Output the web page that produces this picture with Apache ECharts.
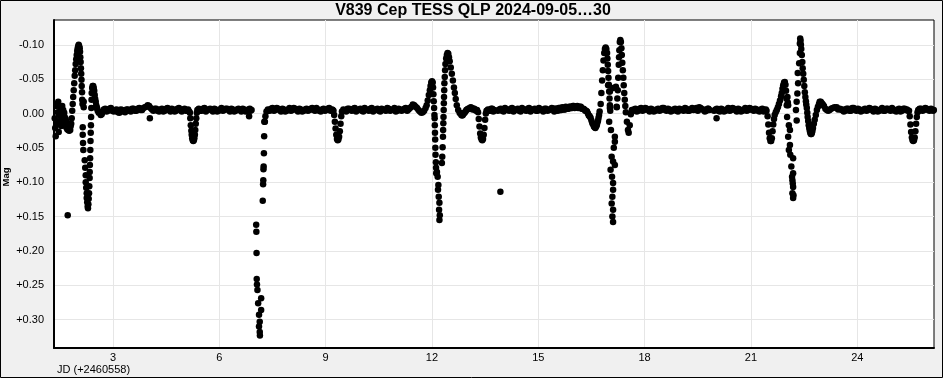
<!DOCTYPE html>
<html><head><meta charset="utf-8">
<script src="https://cdn.jsdelivr.net/npm/echarts@6/dist/echarts.min.js"></script>
<style>html,body{margin:0;padding:0;background:#f0f0f0}#c{width:943px;height:378px}</style>
</head><body><div id="c"></div>
<script>
// ---- tick values ----
const xTicks = [3, 6, 9, 12, 15, 18, 21, 24];
const yTicks = [-0.10, -0.05, 0.00, 0.05, 0.10, 0.15, 0.20, 0.25, 0.30];

// ---- light-curve segments (JD - 2460558, differential mag) ----
const startJd = [1.355,1.369,1.383,1.397,1.411,1.425,1.439,1.454,1.468,1.482,1.496,1.524,1.538,1.552,1.567,1.581,1.595,1.609,1.623,1.637,1.651,1.665,1.679,1.693,1.708,1.722,1.736,1.750,1.764,1.778,1.792,1.806,1.821,1.835,1.849,1.863,1.877,1.891,1.905,1.919,1.933,1.947,1.962,1.976,1.990,2.004,2.018,2.032,2.046,2.060,2.069,2.077,2.086,2.094,2.103,2.111,2.117,2.126,2.131,2.140];
const startMag = [0.007,0.021,0.033,-0.011,-0.014,0.015,-0.002,-0.017,0.027,0.002,0.011,-0.007,0.018,0.001,-0.011,0.007,-0.005,0.012,-0.001,0.005,0.017,0.008,0.020,0.012,0.023,0.017,0.024,0.020,0.025,0.021,0.024,0.018,0.015,0.007,-0.004,-0.014,-0.024,-0.034,-0.044,-0.055,-0.063,-0.072,-0.079,-0.085,-0.091,-0.095,-0.098,-0.100,-0.098,-0.095,-0.090,-0.082,-0.075,-0.066,-0.058,-0.049,-0.040,-0.031,-0.020,-0.014];

const flare1Jd = [2.145,2.145,2.154,2.162,2.173,2.173,2.202,2.216,2.230,2.230,2.244,2.258,2.258,2.272,2.286,2.294,2.305,2.314,2.323,2.331,2.340,2.343,2.348,2.354,2.360,2.365,2.371,2.377,2.382,2.388,2.394,2.399,2.413,2.427,2.441,2.456,2.470,2.484,2.498,2.512,2.526,2.540,2.554,2.568,2.597,2.625,2.653,2.681,1.722];
const flare1Mag = [0.020,0.031,0.043,0.053,-0.017,-0.009,0.068,0.079,0.090,0.100,0.108,0.116,0.123,0.129,0.135,0.138,0.132,0.124,0.116,0.106,0.094,0.085,0.075,0.065,0.053,0.040,0.028,0.017,0.005,-0.008,-0.020,-0.030,-0.037,-0.040,-0.040,-0.037,-0.033,-0.027,-0.021,-0.017,-0.012,-0.009,-0.007,-0.004,-0.001,-0.002,0.002,0.001,0.148];

const base1Jd = [2.70,2.78,2.86,2.94,3.02,3.10,3.18,3.26,3.34,3.42,3.50,3.58,3.66,3.74,3.82,3.90,3.98,4.06,4.14,4.22,4.30,4.38,4.46,4.54,4.62,4.70,4.78,4.86,4.94,5.02,5.10,5.15,4.04];
const base1Mag = [-0.002,-0.007,-0.004,-0.008,-0.003,-0.006,-0.001,-0.005,-0.002,-0.006,-0.003,-0.007,-0.004,-0.008,-0.005,-0.009,-0.012,-0.008,-0.004,-0.007,-0.003,-0.007,-0.004,-0.008,-0.003,-0.006,-0.004,-0.008,-0.003,-0.007,-0.004,-0.003,0.007];
const base1bJd = [2.74,2.82,2.90,2.98,3.06,3.14,3.22,3.30,3.38,3.46,3.54,3.62,3.70,3.78,3.86,3.94,4.02,4.10,4.18,4.26,4.34,4.42,4.50,4.58,4.66,4.74,4.82,4.90,4.98,5.06,5.12];
const base1bMag = [-0.006,-0.003,-0.007,-0.004,-0.005,-0.002,-0.006,-0.003,-0.006,-0.004,-0.007,-0.004,-0.007,-0.005,-0.008,-0.010,-0.011,-0.006,-0.007,-0.004,-0.006,-0.003,-0.007,-0.005,-0.007,-0.003,-0.007,-0.005,-0.006,-0.004,-0.006];

const dip1Jd = [5.17,5.18,5.195,5.21,5.22,5.235,5.25,5.265,5.28,5.295,5.31,5.32,5.335,5.35,5.365,5.38];
const dip1Mag = [-0.001,0.007,0.017,0.025,0.031,0.036,0.039,0.040,0.039,0.036,0.031,0.024,0.015,0.007,-0.001,-0.005];

const base2Jd = [5.42,5.50,5.58,5.66,5.74,5.82,5.90,5.98,6.06,6.14,6.22,6.30,6.38,6.46,6.54,6.62,6.70,6.78,6.86,6.91,6.84];
const base2Mag = [-0.007,-0.004,-0.008,-0.005,-0.007,-0.003,-0.006,-0.004,-0.008,-0.005,-0.007,-0.003,-0.006,-0.004,-0.007,-0.003,-0.006,-0.004,-0.007,-0.005,0.004];
const base2bJd = [5.46,5.54,5.62,5.70,5.78,5.86,5.94,6.02,6.10,6.18,6.26,6.34,6.42,6.50,6.58,6.66,6.74,6.82,6.88];
const base2bMag = [-0.004,-0.007,-0.003,-0.006,-0.005,-0.007,-0.003,-0.006,-0.004,-0.007,-0.005,-0.007,-0.003,-0.006,-0.005,-0.007,-0.003,-0.006,-0.004];

const eclipseJd = [7.040,7.045,7.050,7.055,7.062,7.075,7.180,7.095,7.180,7.120,7.140,7.120,7.140,7.145,7.225,7.235,7.240,7.245,7.250,7.258,7.265,7.270,7.285,7.300,7.330,7.370];
const eclipseMag = [0.162,0.172,0.203,0.241,0.249,0.257,0.269,0.276,0.286,0.293,0.303,0.310,0.318,0.323,0.127,0.103,0.097,0.081,0.077,0.058,0.033,0.012,0.012,0.004,-0.003,-0.006];

const base3Jd = [7.42,7.50,7.58,7.66,7.74,7.82,7.90,7.98,8.06,8.14,8.22,8.30,8.38,8.46,8.54,8.62,8.70,8.78,8.86,8.94,9.02,9.10,9.18];
const base3Mag = [-0.004,-0.008,-0.005,-0.007,-0.003,-0.006,-0.004,-0.008,-0.005,-0.007,-0.003,-0.006,-0.004,-0.007,-0.005,-0.008,-0.004,-0.006,-0.003,-0.007,-0.005,-0.008,-0.006];
const base3bJd = [7.46,7.54,7.62,7.70,7.78,7.86,7.94,8.02,8.10,8.18,8.26,8.34,8.42,8.50,8.58,8.66,8.74,8.82,8.90,8.98,9.06,9.14,9.20];
const base3bMag = [-0.007,-0.004,-0.008,-0.005,-0.007,-0.003,-0.006,-0.004,-0.008,-0.005,-0.007,-0.003,-0.006,-0.004,-0.007,-0.005,-0.008,-0.004,-0.006,-0.004,-0.007,-0.004,-0.005];

const dip2Jd = [9.22,9.24,9.26,9.28,9.30,9.32,9.34,9.36,9.38,9.40,9.42,9.44,9.46];
const dip2Mag = [-0.004,0.002,0.012,0.022,0.031,0.037,0.039,0.038,0.034,0.026,0.015,0.004,-0.003];

const base4Jd = [9.50,9.58,9.66,9.74,9.82,9.90,9.98,10.06,10.14,10.22,10.30,10.38,10.46,10.54,10.62,10.70,10.78,10.86,10.94,11.02,11.10,11.18,11.26,11.34,11.42,11.50,11.58,11.62];
const base4Mag = [-0.006,-0.003,-0.007,-0.004,-0.008,-0.005,-0.007,-0.003,-0.006,-0.004,-0.008,-0.005,-0.007,-0.003,-0.006,-0.004,-0.007,-0.005,-0.008,-0.004,-0.006,-0.005,-0.008,-0.006,-0.010,-0.012,-0.008,-0.005];
const base4bJd = [9.54,9.62,9.70,9.78,9.86,9.94,10.02,10.10,10.18,10.26,10.34,10.42,10.50,10.58,10.66,10.74,10.82,10.90,10.98,11.06,11.14,11.22,11.30,11.38,11.46,11.54];
const base4bMag = [-0.004,-0.007,-0.005,-0.007,-0.003,-0.006,-0.004,-0.008,-0.005,-0.007,-0.003,-0.006,-0.004,-0.007,-0.005,-0.008,-0.004,-0.006,-0.003,-0.007,-0.004,-0.007,-0.004,-0.008,-0.013,-0.010];

const flare2Jd = [11.66,11.70,11.74,11.78,11.82,11.85,11.88,11.91,11.94,11.96,11.98,12.00,12.02,12.03,12.04,12.05,12.06,
  12.07,12.075,12.08,12.085,12.09,12.095,12.10,12.11,12.115,12.12,12.14,12.16,12.17,12.18,12.19,12.20,12.21,12.22,12.21,
  12.28,12.29,12.30,12.31,12.315,12.32,12.325,12.33,12.335,12.34,12.345,12.35,12.36,12.37,12.38,12.40,12.42,12.44,
  12.46,12.48,12.50,12.53,12.56,12.59,12.62,12.645,12.67,12.70,12.74,12.78,12.83,12.87,12.92,12.97,13.02,13.07,13.12,13.17,13.22,13.27,
  12.805,12.85,12.895,12.945,12.995,13.045,13.095,13.145,13.195,13.245];
const flare2Mag = [-0.003,-0.001,-0.002,-0.004,-0.008,-0.012,-0.019,-0.027,-0.034,-0.040,-0.045,-0.047,-0.045,-0.038,-0.028,-0.018,-0.008,
  0.002,0.007,0.017,0.028,0.038,0.050,0.060,0.071,0.079,0.087,0.085,0.092,0.111,0.104,0.121,0.140,0.130,0.148,0.155,
  0.072,0.063,0.049,0.034,0.024,0.014,0.005,-0.005,-0.015,-0.024,-0.034,-0.044,-0.053,-0.063,-0.072,-0.080,-0.085,-0.088,
  -0.087,-0.082,-0.076,-0.067,-0.058,-0.048,-0.038,-0.030,-0.021,-0.012,-0.005,-0.001,0.002,0.002,-0.001,-0.005,-0.007,-0.008,-0.008,-0.007,-0.005,-0.005,
  0.000,0.003,0.000,-0.003,-0.006,-0.007,-0.009,-0.006,-0.007,-0.004];

const dip3Jd = [13.30,13.32,13.34,13.36,13.38,13.40,13.42,13.44,13.46,13.48,13.50,13.52,13.54];
const dip3Mag = [-0.002,0.008,0.019,0.029,0.035,0.038,0.039,0.037,0.031,0.021,0.009,0.000,-0.004];

const base5Jd = [13.58,13.64,13.70,13.76,13.93,13.86,13.94,14.02,14.10,14.18,14.26,14.34,14.42,14.50,14.58,14.66,14.74,14.82,14.90,14.98,15.06,15.14,15.22,15.30,15.38];
const base5Mag = [-0.006,-0.004,-0.007,-0.005,0.114,-0.004,-0.007,-0.003,-0.006,-0.004,-0.008,-0.005,-0.007,-0.003,-0.006,-0.004,-0.008,-0.005,-0.007,-0.004,-0.006,-0.003,-0.007,-0.005,-0.008];
const base5bJd = [13.61,13.67,13.73,13.90,13.98,14.06,14.14,14.22,14.30,14.38,14.46,14.54,14.62,14.70,14.78,14.86,14.94,15.02,15.10,15.18,15.26,15.34,15.42];
const base5bMag = [-0.004,-0.007,-0.003,-0.006,-0.004,-0.008,-0.005,-0.007,-0.003,-0.006,-0.004,-0.008,-0.005,-0.007,-0.003,-0.006,-0.004,-0.008,-0.005,-0.007,-0.004,-0.006,-0.007];

const flare3Jd = [15.45,15.50,15.55,15.60,15.65,15.70,15.75,15.80,15.85,15.90,15.95,16.00,16.05,16.10,16.15,16.20,16.25,16.30,16.35,16.40,16.45,16.50,16.55,16.59,16.63,16.67,16.70,16.73,
  16.76,16.78,16.80,16.82,16.84,16.86,16.88,16.90,16.92,16.94,16.95,16.96,16.97,16.98,16.99,17.00,17.01,17.02,17.03,
  16.97,17.02,17.11,17.19,17.02,17.21,
  17.00,17.16,17.16,17.07,17.11,17.16,17.04,17.11,17.11,17.09,17.07,17.11,17.09,17.11,17.05,17.13,17.08,
  17.215,17.23,17.243,17.255,17.27,17.278,17.286,17.30,17.314,17.33,17.345,17.356,17.37,17.385,17.40,17.41,17.425,17.44,17.455,17.47,17.50,17.53,17.55,17.58,17.61,17.64];
const flare3Mag = [-0.003,-0.007,-0.004,-0.008,-0.005,-0.008,-0.006,-0.009,-0.007,-0.010,-0.008,-0.011,-0.009,-0.011,-0.009,-0.010,-0.007,-0.006,-0.004,0.000,0.004,0.010,0.016,0.020,0.019,0.013,0.006,-0.003,
  -0.014,-0.030,-0.048,-0.063,-0.077,-0.088,-0.094,-0.096,-0.094,-0.088,-0.080,-0.071,-0.062,-0.052,-0.042,-0.032,-0.022,-0.012,-0.004,
  -0.041,-0.032,-0.037,-0.039,-0.008,-0.010,
  0.012,0.034,0.041,0.063,0.070,0.075,0.082,0.101,0.111,0.121,0.131,0.140,0.150,0.158,0.024,0.050,0.092,
  -0.009,-0.022,-0.034,-0.052,-0.071,-0.082,-0.092,-0.104,-0.107,-0.104,-0.095,-0.085,-0.074,-0.063,-0.052,-0.041,-0.030,-0.020,-0.011,-0.002,0.012,0.024,0.028,0.017,0.001,-0.005];
const flare3bJd = [15.475,15.525,15.575,15.625,15.675,15.725,15.775,15.825,15.875,15.925,15.975,16.025,16.075,16.125,16.175,16.225,16.275,16.325,16.375,16.425,16.475,16.525,16.57,16.61,16.65,16.685,16.715];
const flare3bMag = [-0.007,-0.005,-0.008,-0.005,-0.009,-0.006,-0.010,-0.007,-0.010,-0.008,-0.011,-0.008,-0.010,-0.008,-0.010,-0.007,-0.007,-0.004,-0.003,0.003,0.006,0.014,0.019,0.021,0.017,0.010,0.002];

const base6Jd = [17.70,17.78,17.86,17.94,18.02,18.10,18.18,18.26,18.34,18.42,18.50,18.58,18.66,18.74,18.82,18.90,18.98,19.06,19.14,19.22,19.30,19.38,19.46,19.54,19.62,19.70,19.78,19.83,20.03];
const base6Mag = [-0.006,-0.003,-0.007,-0.004,-0.008,-0.005,-0.007,-0.003,-0.006,-0.004,-0.008,-0.005,-0.007,-0.003,-0.006,-0.004,-0.007,-0.005,-0.008,-0.004,-0.006,-0.005,-0.008,-0.009,-0.006,-0.003,-0.007,-0.005,0.007];
const base6bJd = [17.67,17.74,17.82,17.90,17.98,18.06,18.14,18.22,18.30,18.38,18.46,18.54,18.62,18.70,18.78,18.86,18.94,19.02,19.10,19.18,19.26,19.34,19.42,19.50,19.58,19.66,19.74,19.80];
const base6bMag = [-0.004,-0.007,-0.004,-0.008,-0.005,-0.007,-0.003,-0.006,-0.004,-0.007,-0.005,-0.008,-0.004,-0.006,-0.004,-0.007,-0.003,-0.006,-0.004,-0.007,-0.004,-0.008,-0.006,-0.004,-0.008,-0.006,-0.004,-0.007];

const base7Jd = [19.96,20.04,20.12,20.20,20.28,20.36,20.44,20.52,20.60,20.68,20.76,20.84,20.92,21.00,21.08,21.16,21.24,21.32,21.40,21.44];
const base7Mag = [-0.004,-0.007,-0.003,-0.006,-0.004,-0.008,-0.005,-0.007,-0.003,-0.006,-0.004,-0.008,-0.005,-0.007,-0.004,-0.006,-0.003,-0.007,-0.005,-0.004];
const base7bJd = [20.00,20.08,20.16,20.24,20.32,20.40,20.48,20.56,20.64,20.72,20.80,20.88,20.96,21.04,21.12,21.20,21.28,21.36,21.42];
const base7bMag = [-0.006,-0.004,-0.007,-0.003,-0.006,-0.004,-0.008,-0.005,-0.007,-0.003,-0.006,-0.004,-0.008,-0.005,-0.007,-0.004,-0.006,-0.003,-0.006];

const flare4Jd = [21.47,21.49,21.51,21.53,21.55,21.57,21.59,21.61,21.63,21.65,21.67,21.70,21.73,21.76,21.79,21.82,21.85,21.87,21.89,21.91,21.935,21.955,21.975,21.99,22.00,22.01,22.03,22.04,
  22.05,22.02,22.07,22.10,22.05,22.10,22.07,22.11,22.19,22.14,22.19,22.17,22.19,22.17,22.19,22.16,22.18,22.20,
  22.29,22.27,22.29,22.31,22.33,22.32,22.36,22.38,22.38,22.39,22.41,22.435,22.46,22.49,22.52,22.55,22.576,22.60,22.63,22.66,22.69,22.72,22.75,22.80,22.86,22.92,22.94,23.00,23.06,23.14,23.22,23.31,23.42,23.51,23.56,
  22.40,22.42,22.45,22.475,22.505,22.535,22.56,22.59,22.615,22.645,22.675,22.705,22.735,22.775,22.83,22.89,22.97,23.03,23.10,23.18,23.26,23.36,23.46];
const flare4Mag = [0.004,0.016,0.028,0.036,0.040,0.040,0.036,0.026,0.016,0.008,0.002,-0.002,-0.005,-0.009,-0.014,-0.019,-0.025,-0.030,-0.036,-0.041,-0.045,-0.046,-0.042,-0.033,-0.022,-0.012,-0.024,-0.016,
  -0.012,0.005,0.017,0.024,0.034,0.046,0.053,0.060,0.065,0.077,0.087,0.097,0.107,0.116,0.123,0.092,0.102,0.119,
  0.010,-0.005,-0.017,-0.029,-0.044,-0.059,-0.073,-0.088,-0.102,-0.109,-0.100,-0.085,-0.066,-0.049,-0.031,-0.018,-0.008,0.005,0.017,0.025,0.030,0.028,0.021,0.009,-0.005,-0.014,-0.017,-0.015,-0.011,-0.005,-0.005,-0.008,-0.009,-0.007,-0.005,
  -0.106,-0.094,-0.075,-0.058,-0.040,-0.024,-0.013,-0.001,0.011,0.021,0.028,0.030,0.025,0.015,0.002,-0.010,-0.017,-0.013,-0.007,-0.004,-0.007,-0.009,-0.006];

const base8Jd = [23.62,23.70,23.78,23.86,23.94,24.02,24.10,24.18,24.26,24.34,24.42,24.50,24.58,24.66,24.74,24.82,24.90,24.98,25.06,25.14,25.22,25.30,25.38,25.43];
const base8Mag = [-0.003,-0.007,-0.004,-0.008,-0.005,-0.007,-0.003,-0.006,-0.004,-0.008,-0.005,-0.007,-0.003,-0.006,-0.004,-0.007,-0.005,-0.008,-0.004,-0.006,-0.003,-0.007,-0.005,-0.004];
const base8bJd = [23.59,23.66,23.74,23.82,23.90,23.98,24.06,24.14,24.22,24.30,24.38,24.46,24.54,24.62,24.70,24.78,24.86,24.94,25.02,25.10,25.18,25.26,25.34,25.40];
const base8bMag = [-0.006,-0.004,-0.007,-0.004,-0.008,-0.004,-0.006,-0.004,-0.007,-0.005,-0.007,-0.003,-0.006,-0.004,-0.008,-0.004,-0.007,-0.004,-0.006,-0.003,-0.007,-0.004,-0.007,-0.006];

const dip5Jd = [25.46,25.48,25.50,25.52,25.54,25.56,25.58,25.60,25.62,25.64,25.66,25.68,25.70,25.72,25.76,25.84,25.92,26.00,26.08,26.14,25.74,25.80,25.88,25.96,26.04,26.11,26.16];
const dip5Mag = [-0.004,0.004,0.016,0.027,0.035,0.039,0.040,0.039,0.035,0.026,0.015,0.005,-0.002,-0.005,-0.007,-0.004,-0.008,-0.005,-0.007,-0.004,-0.004,-0.007,-0.005,-0.007,-0.004,-0.006,-0.005];

const segments = [
  [startJd, startMag], [flare1Jd, flare1Mag], [base1Jd, base1Mag], [base1bJd, base1bMag], [dip1Jd, dip1Mag],
  [base2Jd, base2Mag], [base2bJd, base2bMag], [eclipseJd, eclipseMag], [base3Jd, base3Mag], [base3bJd, base3bMag],
  [dip2Jd, dip2Mag], [base4Jd, base4Mag], [base4bJd, base4bMag], [flare2Jd, flare2Mag], [dip3Jd, dip3Mag],
  [base5Jd, base5Mag], [base5bJd, base5bMag], [flare3Jd, flare3Mag], [flare3bJd, flare3bMag],
  [base6Jd, base6Mag], [base6bJd, base6bMag], [base7Jd, base7Mag], [base7bJd, base7bMag],
  [flare4Jd, flare4Mag], [base8Jd, base8Mag], [base8bJd, base8bMag], [dip5Jd, dip5Mag]
];
const points = [];
segments.forEach(([j, m]) => { for (let i = 0; i < Math.min(j.length, m.length); i++) points.push([j[i], m[i]]); });

const chart = echarts.init(document.getElementById('c'), null, { renderer: 'canvas' });
const FONT = '"Liberation Sans", Arial, sans-serif';
chart.setOption({
  animation: false,
  backgroundColor: '#f0f0f0',
  grid: { left: 54, top: 20, right: 9, bottom: 30, show: true, backgroundColor: '#ffffff', borderColor: '#000', borderWidth: 1 },
  xAxis: {
    type: 'value', min: 1.335, max: 26.165,
    axisLine: { show: true, onZero: false, lineStyle: { color: '#000', width: 2 } },
    axisTick: { show: false, customValues: xTicks },
    axisLabel: { customValues: xTicks, color: '#000', fontSize: 11, fontFamily: FONT, margin: 4 },
    splitLine: { show: true, lineStyle: { color: '#e6e6e6', width: 1 } }
  },
  yAxis: {
    type: 'value', inverse: true, min: -0.1361, max: 0.3413,
    axisLine: { show: true, onZero: false, lineStyle: { color: '#000', width: 2 } },
    axisTick: { show: false, customValues: yTicks },
    axisLabel: { customValues: yTicks, color: '#000', fontSize: 11, fontFamily: FONT, margin: 10,
      formatter: v => (Math.abs(v) < 1e-9 ? '0.00' : (v > 0 ? '+' : '') + v.toFixed(2)) },
    splitLine: { show: true, lineStyle: { color: '#e6e6e6', width: 1 } }
  },
  series: [{
    type: 'scatter', data: points, symbol: 'circle', symbolSize: 6.5,
    itemStyle: { color: '#000', opacity: 1 }, silent: true
  }],
  graphic: [
    { type: 'rect', shape: { x: 0.5, y: 0.5, width: 942, height: 377 }, style: { fill: 'none', stroke: '#000', lineWidth: 1 }, z: 100 },
    { type: 'text', x: 473, y: 11, style: { text: 'V839 Cep TESS QLP 2024-09-05…30', fill: '#000', font: 'bold 16px ' + FONT, textAlign: 'center', textVerticalAlign: 'middle' } },
    { type: 'text', x: 6, y: 177, rotation: Math.PI / 2, style: { text: 'Mag', fill: '#000', font: 'bold 9.5px ' + FONT, textAlign: 'center', textVerticalAlign: 'middle' } },
    { type: 'text', x: 57, y: 370, style: { text: 'JD (+2460558)', fill: '#000', font: '11px ' + FONT, textAlign: 'left', textVerticalAlign: 'middle' } }
  ]
});
</script></body></html>
